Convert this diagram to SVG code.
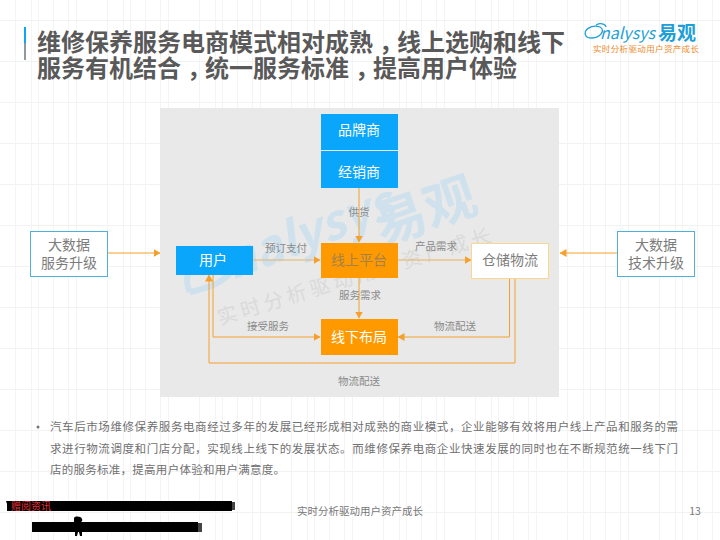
<svg xmlns="http://www.w3.org/2000/svg" width="720" height="540" viewBox="0 0 720 540">
<defs>
<pattern id="grid" x="38" y="20" width="92" height="41" patternUnits="userSpaceOnUse"><path d="M.5 0V41M15.500 0V41M30.500 0V41M38.500 0V41M69.500 0V41M85.500 0V41" fill="none" stroke="#f4f4f4"/><path d="M0 .5H92" stroke="#f2f2f2"/></pattern>
<marker id="arr" markerUnits="userSpaceOnUse" markerWidth="7" markerHeight="8" refX="6.500" refY="4" orient="auto"><path d="M0 0L7 4L0 8Z" fill="#f5a02c"/></marker>
</defs>
<style>
text{font-family:"Noto Sans CJK SC","Liberation Sans",sans-serif}
.c{text-anchor:middle}
.l{font-size:10.5px;fill:#8a8a8a;text-anchor:middle}
.n{font-size:14px;text-anchor:middle}
.w{fill:#fff}
.g{fill:#7c7c7c}
.b{fill:#0aa6fc}
.o{fill:#fe9a00}
.t{font-size:24px;font-weight:700;fill:#595959}
.p{font-size:11.5px;fill:#707070}
.ln{fill:none;stroke:#f5a02c;stroke-width:1;marker-end:url(#arr)}
</style>
<rect width="720" height="540" fill="#fff"/>
<rect width="720" height="540" fill="url(#grid)"/>
<rect x="160" y="108" width="399" height="289" fill="#e9e9e9"/>
<g id="watermark">
<path d="M190 292C178 270 205 250 228 252C246 254 232 280 208 287C198 290 192 292 190 292" fill="none" stroke="#cfe1ec" stroke-width="6"/>
<text transform="translate(232 280) rotate(-21)" font-size="48" font-weight="700" fill="#cfe1ec" font-family="Liberation Sans" font-style="italic">nalysys</text>
<text transform="translate(382 245) rotate(-19)" font-size="52" font-weight="700" fill="#cfe1ec">易观</text>
<text transform="translate(220 325) rotate(-17)" font-size="20" fill="#dadada" textLength="285">实时分析驱动用户资产成长</text>
</g>
<g id="title-bar"><rect x="24" y="27" width="2" height="16" fill="#0aa6fc"/><rect x="24" y="43" width="2" height="17" fill="#8f9aa0"/></g>
<g id="title">
<text class="t" x="37" y="51" dx="0 0 0 0 0 0 0 0 0 0 0 0 0 0 6 -6">维修保养服务电商模式相对成熟，线上选购和线下</text>
<text class="t" x="37" y="77" dx="0 0 0 0 0 0 6 -6 0 0 0 0 0 6 -6">服务有机结合，统一服务标准，提高用户体验</text>
</g>
<g id="logo">
<path d="M586 36C582 30 592 24 600 27C606 30 600 38 592 38C587 38 586 36 586 36M596 25C602 22 606 25 606 27" fill="none" stroke="#1e9fd8" stroke-width="1.300"/>
<text x="600" y="39" font-size="16" fill="#1e9fd8" font-style="italic" font-family="Liberation Sans">nalysys</text>
<text x="658" y="40" font-size="19" font-weight="700" fill="#1e9fd8">易观</text>
<text x="593" y="52" font-size="8.500" fill="#ee8a2a" textLength="106">实时分析驱动用户资产成长</text>
</g>
<g id="connectors">
<path class="ln" d="M359 188V242"/>
<path class="ln" d="M253 260H320" style="stroke:#e8b26a"/>
<path class="ln" d="M398 260H471" style="stroke:#eeb05a"/>
<path class="ln" d="M359 278V318"/>
<path class="ln" d="M213 275V337H320"/>
<path class="ln" d="M509.500 278V337H398"/>
<path class="ln" d="M515 278V363H209V275"/>
<path class="ln" d="M108 253H160"/>
<path class="ln" d="M617 253H560"/>
</g>
<g id="n-brand"><rect x="321" y="114" width="77" height="36" class="b"/><text class="n w" x="359" y="135">品牌商</text></g>
<g id="n-dealer"><rect x="321" y="151" width="77" height="37" class="b"/><text class="n w" x="359" y="177">经销商</text></g>
<g id="n-user"><rect x="176" y="246" width="77" height="29" class="b"/><text class="n w" x="213" y="265">用户</text></g>
<g id="n-online"><rect x="321" y="243" width="77" height="35" class="o"/><text class="n" fill="#a5814a" x="359" y="265">线上平台</text></g>
<g id="n-wh"><rect x="471.500" y="243.500" width="77" height="35" fill="#fff" stroke="#fbd68c"/><text class="n g" x="510" y="265">仓储物流</text></g>
<g id="n-offline"><rect x="321" y="319" width="77" height="36" class="o"/><text class="n w" x="359" y="342">线下布局</text></g>
<g id="n-left"><rect x="30.500" y="231.500" width="77" height="45" fill="#fff" stroke="#4fb0dc"/><text class="n g" x="69" y="250">大数据</text><text class="n g" x="69" y="268">服务升级</text></g>
<g id="n-right"><rect x="617.500" y="231.500" width="77" height="45" fill="#fff" stroke="#4fb0dc"/><text class="n g" x="656" y="250">大数据</text><text class="n g" x="656" y="268">技术升级</text></g>
<g id="labels">
<text class="l" x="359" y="216">供货</text>
<text class="l" x="286" y="252">预订支付</text>
<text class="l" x="436" y="250">产品需求</text>
<text class="l" x="360" y="299">服务需求</text>
<text class="l" x="268" y="330">接受服务</text>
<text class="l" x="455" y="330">物流配送</text>
<text class="l" x="359" y="385">物流配送</text>
</g>
<g id="body">
<circle cx="38" cy="427" r="1.500" fill="#777"/>
<text class="p" x="50" y="431" textLength="628">汽车后市场维修保养服务电商经过多年的发展已经形成相对成熟的商业模式，企业能够有效将用户线上产品和服务的需</text>
<text class="p" x="50" y="453" textLength="628">求进行物流调度和门店分配，实现线上线下的发展状态。而维修保养电商企业快速发展的同时也在不断规范统一线下门</text>
<text class="p" x="50" y="474" textLength="235">店的服务标准，提高用户体验和用户满意度。</text>
</g>
<g id="footer">
<rect x="7" y="501" width="225" height="10" fill="#000"/>
<path d="M6 501H10V507H8Z" fill="#000"/>
<path d="M232 502H235V510H232Z" fill="#444"/>
<text x="11" y="510" font-size="10" fill="#e8333a">赠阅资讯</text>
<rect x="32" y="522" width="166" height="10" fill="#000"/>
<path d="M198 523H202V532H198Z" fill="#444"/>
<path d="M74 518C75 516 81 516 82 519C83 521 81 522 81 522H74ZM75 532H78L77 536H75ZM79 532H82V536H80Z" fill="#000"/>
<text x="360" y="515" font-size="10.500" fill="#777" class="c">实时分析驱动用户资产成长</text>
<text x="695" y="515" font-size="10.500" fill="#777" class="c">13</text>
</g>
</svg>
